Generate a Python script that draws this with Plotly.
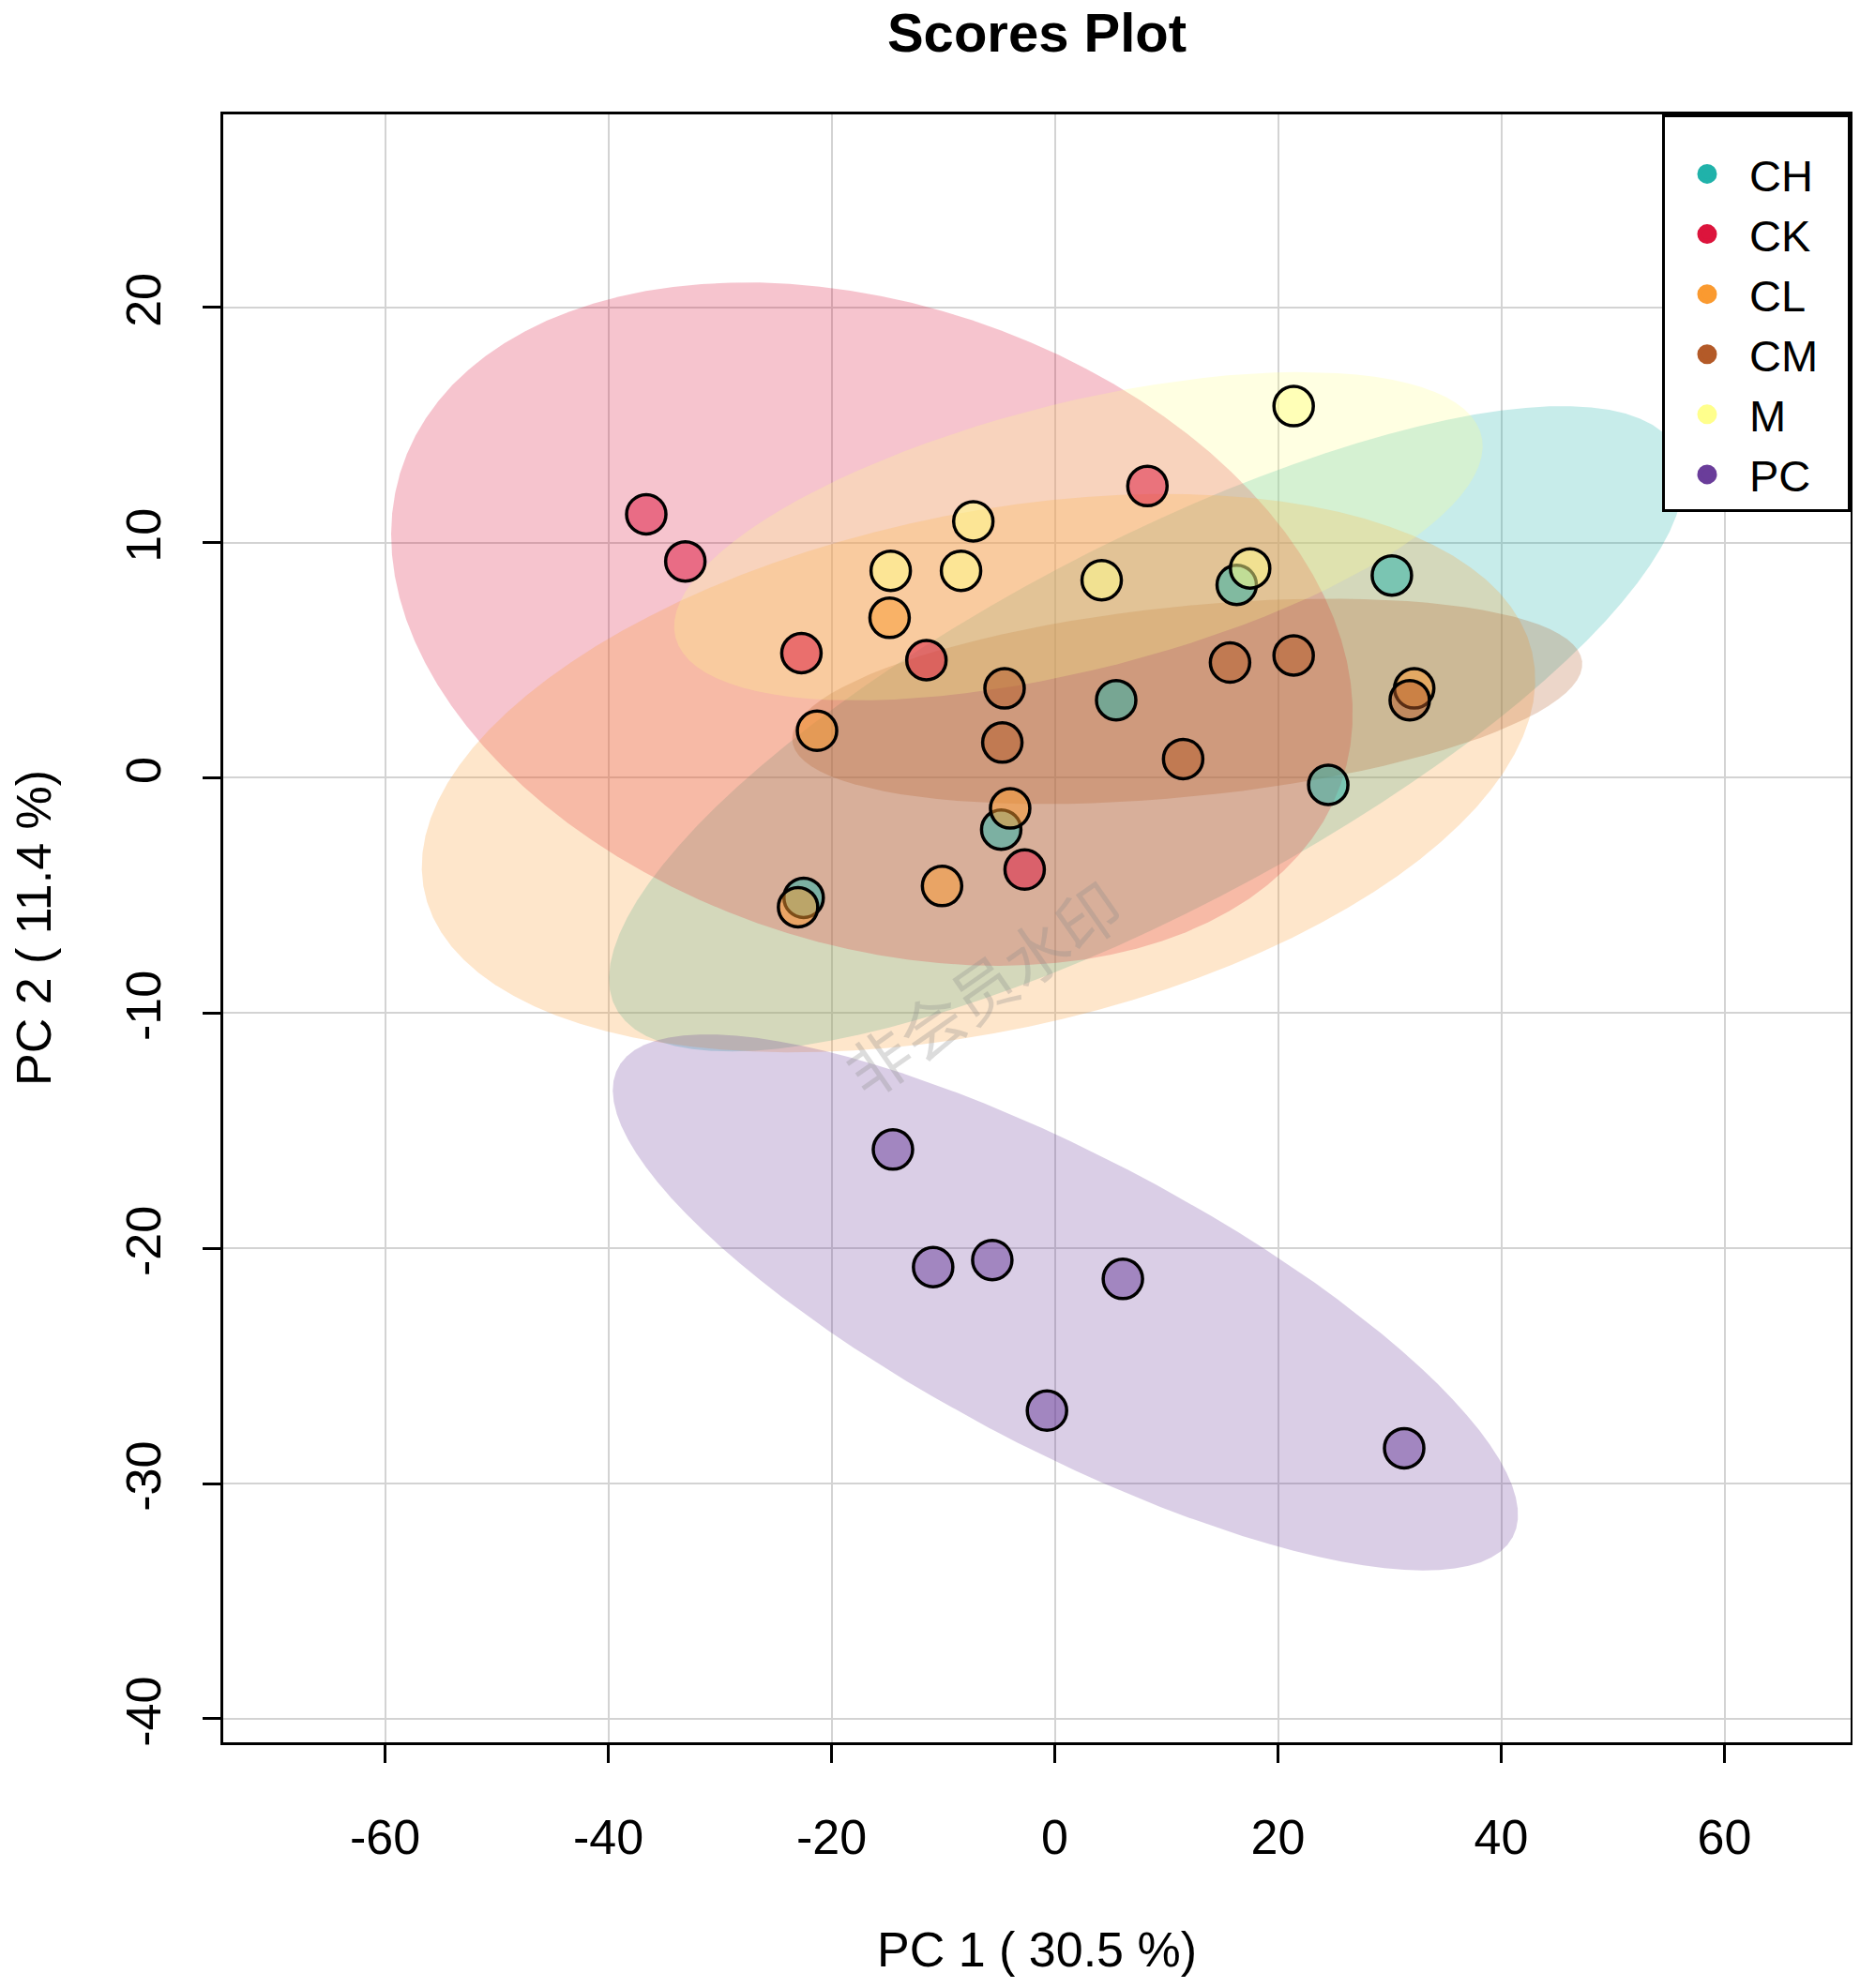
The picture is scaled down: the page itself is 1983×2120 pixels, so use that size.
import numpy as np
import plotly.graph_objects as go

# PCA scores (PC1, PC2), six samples per group
groups = ["CH", "CK", "CL", "CM", "M", "PC"]
colors = ["#20B2AA", "#DC143C", "#FA9A30", "#B35A28", "#FFFF8C", "#6A3D9A"]

ch_pc1 = [16.3, 30.2, 5.5, 24.5, -4.8, -22.5]
ch_pc2 = [8.2, 8.6, 3.3, -0.3, -2.2, -5.1]
ck_pc1 = [-36.6, -33.1, 8.3, -22.7, -11.5, -2.7]
ck_pc2 = [11.2, 9.2, 12.4, 5.3, 5.0, -3.9]
cl_pc1 = [-14.8, -21.3, -4.0, -10.1, -23.0, 32.2]
cl_pc2 = [6.8, 2.0, -1.3, -4.6, -5.5, 3.8]
cm_pc1 = [-4.5, -4.7, 11.5, 15.7, 21.4, 31.8]
cm_pc2 = [3.8, 1.5, 0.8, 4.9, 5.2, 3.3]
m_pc1 = [21.4, -7.3, -14.7, -8.4, 4.2, 17.5]
m_pc2 = [15.8, 10.9, 8.8, 8.8, 8.4, 8.9]
pc_pc1 = [-14.5, -10.9, -5.6, 6.1, -0.7, 31.3]
pc_pc2 = [-15.8, -20.8, -20.5, -21.3, -26.9, -28.5]

pc1 = [ch_pc1, ck_pc1, cl_pc1, cm_pc1, m_pc1, pc_pc1]
pc2 = [ch_pc2, ck_pc2, cl_pc2, cm_pc2, m_pc2, pc_pc2]

x_ticks = [-60, -40, -20, 0, 20, 40, 60]
y_ticks = [-40, -30, -20, -10, 0, 10, 20]

FONT = "Liberation Sans, Arial, Helvetica, sans-serif"


def rgba(hex_color, alpha):
    h = hex_color.lstrip("#")
    r, g, b = int(h[0:2], 16), int(h[2:4], 16), int(h[4:6], 16)
    return f"rgba({r},{g},{b},{alpha})"


def conf_ellipse(x, y, level_t=2.4477, npoints=100):
    # same construction as R ellipse::ellipse(cov, centre, level=0.95)
    cov = np.cov(np.vstack([x, y]))
    sx, sy = np.sqrt(np.diag(cov))
    r = cov[0, 1] / (sx * sy)
    d = np.arccos(r)
    a = np.linspace(0, 2 * np.pi, npoints)
    ex = level_t * sx * np.cos(a + d / 2) + np.mean(x)
    ey = level_t * sy * np.cos(a - d / 2) + np.mean(y)
    return ex, ey


fig = go.Figure()

# ellipses first
for g, c, xs, ys in zip(groups, colors, pc1, pc2):
    ex, ey = conf_ellipse(np.array(xs), np.array(ys))
    fig.add_trace(go.Scatter(
        x=ex, y=ey, mode="lines", fill="toself",
        fillcolor=rgba(c, 0.25), line=dict(width=0),
        hoverinfo="skip", showlegend=False,
    ))

# sample points
for g, c, xs, ys in zip(groups, colors, pc1, pc2):
    fig.add_trace(go.Scatter(
        x=xs, y=ys, mode="markers", name=g,
        marker=dict(size=42, color=rgba(c, 0.5), line=dict(width=3.5, color="black")),
        showlegend=False,
    ))

# legend entries: solid dots, outline in the same colour to make them bigger
for g, c in zip(groups, colors):
    fig.add_trace(go.Scatter(
        x=[None], y=[None], mode="markers", name=g + "&nbsp;&nbsp;",
        marker=dict(size=27, color=c, line=dict(width=5, color=c)),
    ))

axis_common = dict(
    showgrid=True, gridcolor="#D3D3D3", gridwidth=2,
    zeroline=False, showline=True, mirror=True,
    linecolor="black", linewidth=3,
    ticks="outside", ticklen=19, tickwidth=3, tickcolor="black",
    tickfont=dict(family=FONT, size=52, color="black"),
    automargin=False,
)

fig.update_layout(
    width=1975, height=2112,
    margin=dict(l=230, r=10, t=114, b=262),
    paper_bgcolor="white", plot_bgcolor="white",
    title=dict(text="<b>Scores Plot</b>", x=0.5, xref="paper",
               y=1, yanchor="top", pad=dict(t=6),
               font=dict(family=FONT, size=58, color="black")),
    xaxis=dict(range=[-74.5, 71.3], tickvals=x_ticks,
               ticktext=[str(v) for v in x_ticks], ticklabelstandoff=35, **axis_common),
    yaxis=dict(range=[-41.0, 28.2], tickvals=y_ticks,
               ticktext=[str(v) for v in y_ticks], tickangle=-90,
               ticklabelstandoff=24, **axis_common),
    legend=dict(x=1, xanchor="right", y=1, yanchor="top",
                bgcolor="white", bordercolor="black", borderwidth=3,
                font=dict(family=FONT, size=47, color="black"),
                title=dict(text="&nbsp;", font=dict(size=18)),
                itemsizing="trace", itemwidth=80, indentation=0, tracegroupgap=0),
    annotations=[
        dict(text="PC 1 ( 30.5 %)", xref="paper", yref="paper", x=0.5, y=0,
             yanchor="middle", yshift=-221, showarrow=False,
             font=dict(family=FONT, size=52, color="black")),
        dict(text="PC 2 ( 11.4 %)", xref="paper", yref="paper", x=0, y=0.5,
             xanchor="center", xshift=-202, textangle=-90, showarrow=False,
             font=dict(family=FONT, size=52, color="black")),
        dict(text="非会员水印", xref="x", yref="y", x=-6.55, y=-8.9,
             textangle=-35, showarrow=False,
             font=dict(family="Noto Sans CJK SC", size=68, color="rgba(140,140,140,0.3)")),
    ],
)

fig.write_html("out.html")
